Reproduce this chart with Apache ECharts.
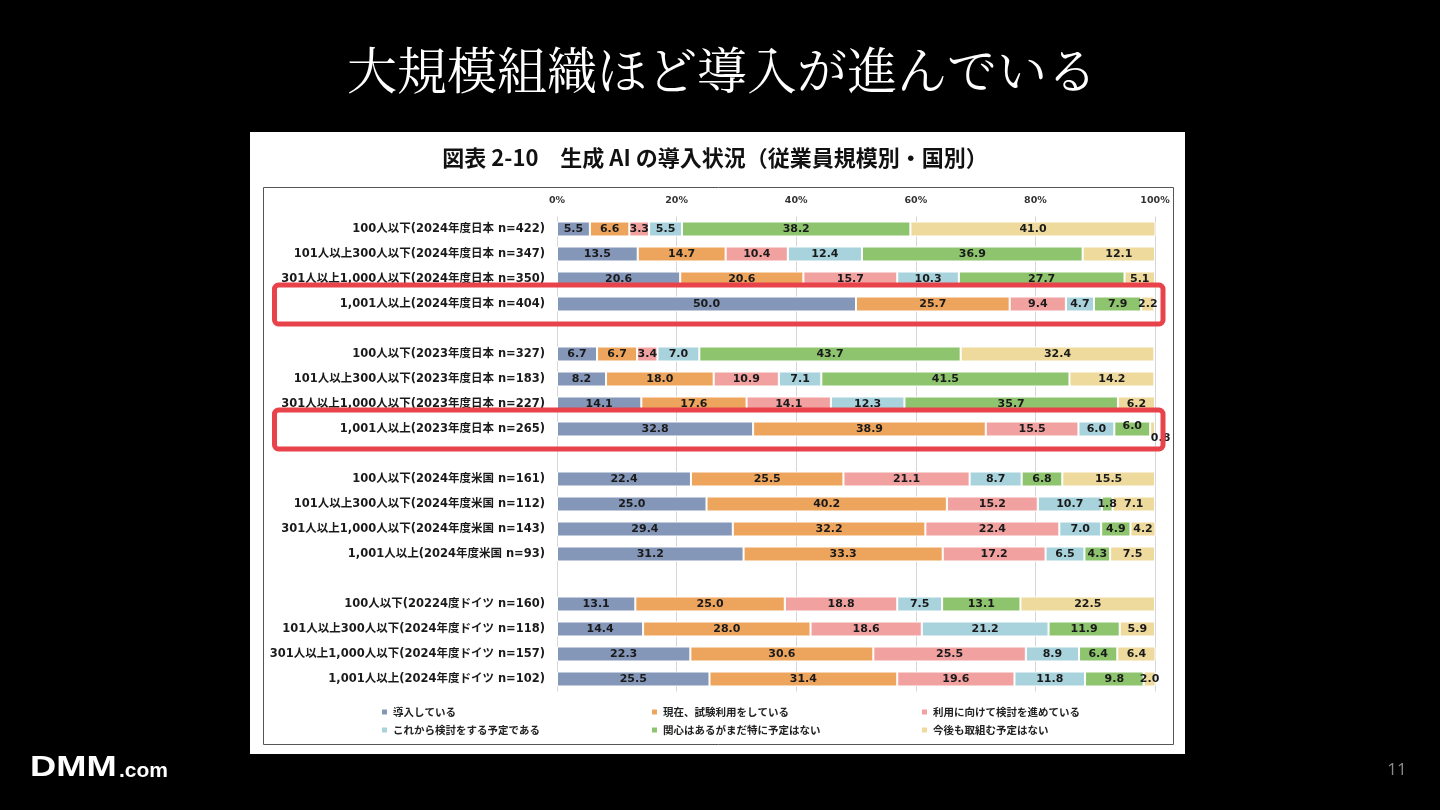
<!DOCTYPE html>
<html><head><meta charset="utf-8">
<script src="https://cdn.jsdelivr.net/npm/echarts@6/dist/echarts.min.js"></script>
<style>html,body{margin:0;padding:0;background:#000;}#c{width:1440px;height:810px;}</style>
</head><body><div id="c"></div>
<script>
const categories = [
  '100人以下(2024年度日本 n=422)',
  '101人以上300人以下(2024年度日本 n=347)',
  '301人以上1,000人以下(2024年度日本 n=350)',
  '1,001人以上(2024年度日本 n=404)',
  ' ',
  '100人以下(2023年度日本 n=327)',
  '101人以上300人以下(2023年度日本 n=183)',
  '301人以上1,000人以下(2023年度日本 n=227)',
  '1,001人以上(2023年度日本 n=265)',
  '  ',
  '100人以下(2024年度米国 n=161)',
  '101人以上300人以下(2024年度米国 n=112)',
  '301人以上1,000人以下(2024年度米国 n=143)',
  '1,001人以上(2024年度米国 n=93)',
  '   ',
  '100人以下(20224度ドイツ n=160)',
  '101人以上300人以下(2024年度ドイツ n=118)',
  '301人以上1,000人以下(2024年度ドイツ n=157)',
  '1,001人以上(2024年度ドイツ n=102)'
];
const seriesNames = ['導入している','現在、試験利用をしている','利用に向けて検討を進めている','これから検討をする予定である','関心はあるがまだ特に予定はない','今後も取組む予定はない'];
const introduced   = [5.5,13.5,20.6,50.0,null, 6.7, 8.2,14.1,32.8,null,22.4,25.0,29.4,31.2,null,13.1,14.4,22.3,25.5];
const trial        = [6.6,14.7,20.6,25.7,null, 6.7,18.0,17.6,38.9,null,25.5,40.2,32.2,33.3,null,25.0,28.0,30.6,31.4];
const considering  = [3.3,10.4,15.7, 9.4,null, 3.4,10.9,14.1,15.5,null,21.1,15.2,22.4,17.2,null,18.8,18.6,25.5,19.6];
const planning     = [5.5,12.4,10.3, 4.7,null, 7.0, 7.1,12.3, 6.0,null, 8.7,10.7, 7.0, 6.5,null, 7.5,21.2, 8.9,11.8];
const interested   = [38.2,36.9,27.7,7.9,null,43.7,41.5,35.7, 6.0,null, 6.8, 1.8, 4.9, 4.3,null,13.1,11.9, 6.4, 9.8];
const noPlan       = [41.0,12.1, 5.1, 2.2,null,32.4,14.2, 6.2, 0.8,null,15.5, 7.1, 4.2, 7.5,null,22.5, 5.9, 6.4, 2.0];
const xTicks = [0,20,40,60,80,100];
const highlightRows = [3, 8];

const colors = ['#8497B9','#EDA55D','#F2A1A1','#A9D3DC','#8DC46D','#EEDA9D'];
const seriesData = [introduced, trial, considering, planning, interested, noPlan];
// label nudges (style only)
const labelNudge = {'5,8': {offset:[8,9]}, '4,8': {offset:[0,-3]}};

const latin = "'DejaVu Sans','Noto Sans CJK JP',sans-serif";
const chart = echarts.init(document.getElementById('c'));

const series = seriesData.map((arr, si) => ({
  name: seriesNames[si], type: 'bar', stack: 'all', barWidth: 15,
  itemStyle: {color: colors[si], borderColor: '#fff', borderWidth: 1},
  label: {show: true, position: 'inside', color: '#1a1a1a', fontFamily: latin, fontWeight: 'bold', fontSize: 11,
          formatter: p => (p.value == null ? '' : Number(p.value).toFixed(1))},
  data: arr.map((v, ri) => {
    const n = labelNudge[si + ',' + ri];
    return n ? {value: v, label: n} : v;
  })
}));

const legendCols = [[0,3],[1,4],[2,5]];
const legends = legendCols.map((col, ci) => ({
  orient: 'vertical', left: 375 + ci*270, top: 700, itemWidth: 7, itemHeight: 7, itemGap: 4,
  icon: 'rect', selectedMode: false,
  textStyle: {color: '#222', fontSize: 10.5, fontWeight: 'bold', fontFamily: "'Noto Sans CJK JP',sans-serif", lineHeight: 14},
  data: col.map(i => seriesNames[i])
}));

const option = {
  backgroundColor: '#000',
  animation: false,
  grid: {left: 557, right: 285, top: 216.5, bottom: 118.5, containLabel: false},
  xAxis: {type: 'value', position: 'top', min: 0, max: 100, interval: 20,
    axisLine: {show: false}, axisTick: {show: false},
    splitLine: {show: true, lineStyle: {color: '#d6d6d6', width: 1}},
    axisLabel: {formatter: v => xTicks.includes(v) ? v + '%' : '', color: '#333', fontFamily: latin, fontWeight: 'bold', fontSize: 9.5, margin: 11}
  },
  yAxis: {type: 'category', inverse: true, data: categories,
    axisLine: {show: false}, axisTick: {show: false},
    axisLabel: {color: '#1a1a1a', fontFamily: latin, fontWeight: 'bold', fontSize: 11.5, margin: 12}
  },
  legend: legends,
  series: series,
  graphic: {elements: [
    {id: 'panel', type: 'rect', z: -10, shape: {x: 250, y: 132, width: 935, height: 622}, style: {fill: '#fff'}},
    {id: 'frame', type: 'rect', z: -9, shape: {x: 263.5, y: 187.5, width: 910, height: 557}, style: {fill: null, stroke: '#555', lineWidth: 1}},
    {id: 'title', type: 'text', x: 722, y: 70, style: {text: '大規模組織ほど導入が進んでいる', fill: '#fff', fontSize: 50, fontFamily: "'Noto Serif CJK JP','Noto Sans CJK JP',serif", fontWeight: 'normal', align: 'center', verticalAlign: 'middle'}},
    {id: 'subtitle', type: 'text', x: 715, y: 158, style: {text: '図表 2-10　生成 AI の導入状況（従業員規模別・国別）', fill: '#111', fontSize: 22, fontWeight: 'bold', fontFamily: "'Noto Sans CJK JP',sans-serif", align: 'center', verticalAlign: 'middle'}},
    {id: 'logo1', type: 'text', x: 30, y: 768, scaleX: 1.25, style: {text: 'DMM', fill: '#fff', fontSize: 29, fontWeight: 900, fontFamily: "'Liberation Sans',Arial,sans-serif", verticalAlign: 'middle'}},
    {id: 'logo2', type: 'text', x: 119, y: 771, style: {text: '.com', fill: '#fff', fontSize: 21, fontWeight: 'bold', fontFamily: "'Liberation Sans',Arial,sans-serif", verticalAlign: 'middle'}},
    {id: 'page', type: 'text', x: 1397, y: 770, style: {text: '11', fill: '#8a8a8a', fontSize: 17, fontFamily: "'Open Sans',sans-serif", align: 'center', verticalAlign: 'middle'}}
  ]}
};
chart.setOption(option);

const xl = 274.5;
const xr = chart.convertToPixel({xAxisIndex: 0}, 100) + 8;
const boxes = highlightRows.map((r, i) => {
  const cy = chart.convertToPixel({yAxisIndex: 0}, categories[r]);
  return {id: 'hl' + i, type: 'rect', z: 100, shape: {x: xl, y: cy - 19, width: xr - xl, height: 39, r: 4},
          style: {fill: null, stroke: '#E8434A', lineWidth: 5}};
});
chart.setOption({graphic: {elements: boxes}});
</script></body></html>
